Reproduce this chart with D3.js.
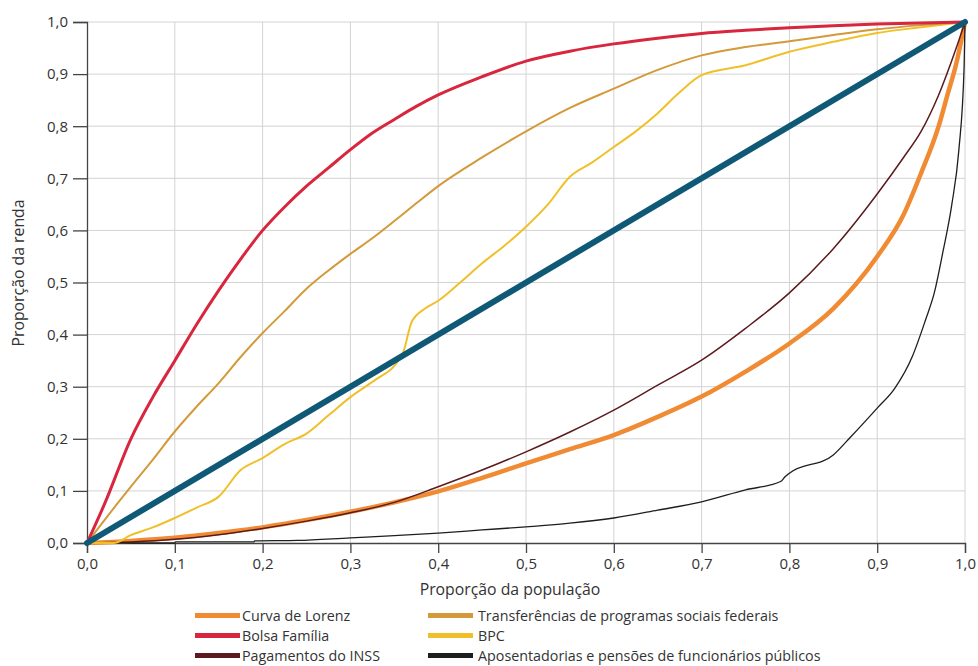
<!DOCTYPE html>
<html>
<head>
<meta charset="utf-8">
<script src="https://cdn.jsdelivr.net/npm/d3@7"></script>
<style>
  body { margin: 0; background: #fff; }
  svg text { font-family: "Open Sans", "Noto Sans", sans-serif; fill: #333; }
</style>
</head>
<body>
<div id="chart"></div>
<script>
// tick values
let ticks = [0, 0.1, 0.2, 0.3, 0.4, 0.5, 0.6, 0.7, 0.8, 0.9, 1.0];

// series, [proporção da população, proporção da renda]
let lorenz = [[0,0],[0.05,0.004],[0.1,0.01],[0.15,0.019],[0.2,0.03],[0.25,0.044],[0.3,0.06],[0.35,0.078],[0.4,0.099],[0.45,0.125],[0.5,0.153],[0.55,0.18],[0.6,0.207],[0.65,0.242],[0.7,0.281],[0.75,0.329],[0.8,0.383],[0.85,0.45],[0.9,0.55],[0.93,0.63],[0.95,0.71],[0.97,0.80],[0.98,0.86],[0.99,0.92],[1,1]];

let bolsa = [[0,0],[0.02,0.075],[0.05,0.2],[0.075,0.28],[0.1,0.35],[0.125,0.42],[0.15,0.485],[0.175,0.545],[0.2,0.6],[0.225,0.645],[0.25,0.685],[0.275,0.72],[0.3,0.755],[0.325,0.787],[0.35,0.813],[0.375,0.838],[0.4,0.86],[0.45,0.895],[0.5,0.925],[0.55,0.944],[0.6,0.958],[0.65,0.969],[0.7,0.978],[0.75,0.984],[0.8,0.989],[0.85,0.993],[0.9,0.996],[0.95,0.998],[1,1]];

let inss = [[0,0],[0.05,0.002],[0.1,0.007],[0.15,0.016],[0.2,0.028],[0.25,0.042],[0.3,0.058],[0.35,0.078],[0.4,0.108],[0.45,0.14],[0.5,0.175],[0.55,0.213],[0.6,0.255],[0.65,0.303],[0.7,0.351],[0.75,0.412],[0.8,0.48],[0.85,0.565],[0.9,0.67],[0.93,0.74],[0.95,0.79],[0.97,0.86],[0.99,0.95],[1,1]];

let transferencias = [[0,0],[0.025,0.055],[0.05,0.108],[0.075,0.16],[0.1,0.214],[0.125,0.262],[0.15,0.307],[0.175,0.357],[0.2,0.403],[0.225,0.445],[0.25,0.488],[0.275,0.523],[0.3,0.555],[0.325,0.585],[0.35,0.618],[0.375,0.652],[0.4,0.685],[0.45,0.74],[0.5,0.79],[0.55,0.835],[0.6,0.872],[0.65,0.908],[0.7,0.936],[0.75,0.952],[0.8,0.963],[0.85,0.975],[0.9,0.986],[0.95,0.994],[1,1]];

let bpc = [[0,0],[0.03,0],[0.05,0.015],[0.075,0.03],[0.1,0.048],[0.125,0.068],[0.15,0.089],[0.175,0.14],[0.2,0.163],[0.225,0.19],[0.25,0.21],[0.275,0.245],[0.3,0.28],[0.33,0.315],[0.35,0.34],[0.36,0.365],[0.37,0.425],[0.385,0.45],[0.4,0.465],[0.425,0.5],[0.45,0.537],[0.475,0.57],[0.5,0.607],[0.525,0.65],[0.55,0.703],[0.575,0.73],[0.6,0.76],[0.625,0.79],[0.65,0.825],[0.675,0.865],[0.7,0.898],[0.75,0.917],[0.8,0.943],[0.85,0.962],[0.9,0.979],[0.95,0.99],[1,1]];

let aposentadorias = [[0,0],[0.1,0],[0.101,0.002],[0.19,0.002],[0.191,0.004],[0.24,0.005],[0.3,0.01],[0.35,0.014],[0.4,0.019],[0.45,0.025],[0.5,0.031],[0.55,0.038],[0.6,0.048],[0.65,0.063],[0.7,0.079],[0.75,0.102],[0.79,0.118],[0.795,0.127],[0.8,0.134],[0.85,0.169],[0.87,0.204],[0.9,0.259],[0.92,0.297],[0.94,0.358],[0.955,0.428],[0.965,0.48],[0.975,0.56],[0.985,0.65],[0.993,0.754],[0.999,0.914],[1,1]];

let igualdade = [[0,0],[1,1]];

// drawing order: bottom first
let series = [
    {name: "Curva de Lorenz", data: lorenz, color: "#F08A33", width: 4.5},
    {name: "Pagamentos do INSS", data: inss, color: "#5B1A1E", width: 1.5},
    {name: "Aposentadorias e pensões de funcionários públicos", data: aposentadorias, color: "#1e1e1e", width: 1.3},
    {name: "BPC", data: bpc, color: "#F0C02A", width: 2},
    {name: "Transferências de programas sociais federais", data: transferencias, color: "#D49A3A", width: 2},
    {name: "Bolsa Família", data: bolsa, color: "#D7263D", width: 3},
    {name: "igualdade", data: igualdade, color: "#0F5876", width: 6}
];

// legend order (two columns)
let legendItems = ["Curva de Lorenz", "Bolsa Família", "Pagamentos do INSS",
    "Transferências de programas sociais federais", "BPC", "Aposentadorias e pensões de funcionários públicos"];

let margin = {top: 22, right: 13, bottom: 123, left: 87};
let width = 978 - margin.left - margin.right;
let height = 666 - margin.top - margin.bottom;

let svg = d3.select("#chart").append("svg")
    .attr("width", 978)
    .attr("height", 666);

let g = svg.append("g")
    .attr("transform", `translate(${margin.left}, ${margin.top})`);

let x = d3.scaleLinear().domain([0, 1]).range([0, width]);
let y = d3.scaleLinear().domain([0, 1]).range([height, 0]);

let fmt = d => d3.format(".1f")(d).replace(".", ",");

// grid
g.append("g").selectAll("line")
    .data(ticks.slice(1))
    .enter().append("line")
    .attr("x1", d => x(d)).attr("x2", d => x(d))
    .attr("y1", 0).attr("y2", height)
    .attr("stroke", "#d3d3d3").attr("stroke-width", 1);

g.append("g").selectAll("line")
    .data(ticks.slice(1))
    .enter().append("line")
    .attr("x1", 0).attr("x2", width)
    .attr("y1", d => y(d)).attr("y2", d => y(d))
    .attr("stroke", "#d3d3d3").attr("stroke-width", 1);

// axes
let xAxis = d3.axisBottom(x).tickValues(ticks).tickFormat(fmt).tickSize(10).tickPadding(5);
let yAxis = d3.axisLeft(y).tickValues(ticks).tickFormat(fmt).tickSize(14).tickPadding(5);

let xg = g.append("g").attr("transform", `translate(0, ${height})`).call(xAxis);
let yg = g.append("g").call(yAxis);

[xg, yg].forEach(a => {
    a.select(".domain").attr("stroke", "#444").attr("stroke-width", 1.3);
    a.selectAll(".tick line").attr("stroke", "#444").attr("stroke-width", 1.3);
    a.selectAll(".tick text").style("font-size", "15px").attr("fill", "#333");
});

// lines
let line = d3.line()
    .x(d => x(d[0]))
    .y(d => y(d[1]))
    .curve(d3.curveMonotoneX);

g.selectAll(".serie")
    .data(series)
    .enter().append("path")
    .attr("class", "serie")
    .attr("d", d => line(d.data))
    .attr("fill", "none")
    .attr("stroke", d => d.color)
    .attr("stroke-width", d => d.width)
    .attr("stroke-linejoin", "round")
    .attr("stroke-linecap", "round");

// axis titles
svg.append("text")
    .attr("x", 510).attr("y", 595)
    .attr("text-anchor", "middle")
    .style("font-size", "15.8px")
    .text("Proporção da população");

svg.append("text")
    .attr("transform", "translate(24, 273) rotate(-90)")
    .attr("text-anchor", "middle")
    .style("font-size", "15.8px")
    .text("Proporção da renda");

// legend
let legend = svg.append("g");
legendItems.forEach((name, i) => {
    let s = series.find(d => d.name === name);
    let col = Math.floor(i / 3);
    let row = i % 3;
    let lx = col === 0 ? 195 : 428;
    let ly = 615.5 + row * 20;
    legend.append("line")
        .attr("x1", lx).attr("x2", lx + 45)
        .attr("y1", ly).attr("y2", ly)
        .attr("stroke", s.color).attr("stroke-width", 5);
    legend.append("text")
        .attr("x", lx + (col === 0 ? 47 : 50)).attr("y", ly + 5)
        .style("font-size", "14.3px")
        .text(name);
});
</script>
</body>
</html>
